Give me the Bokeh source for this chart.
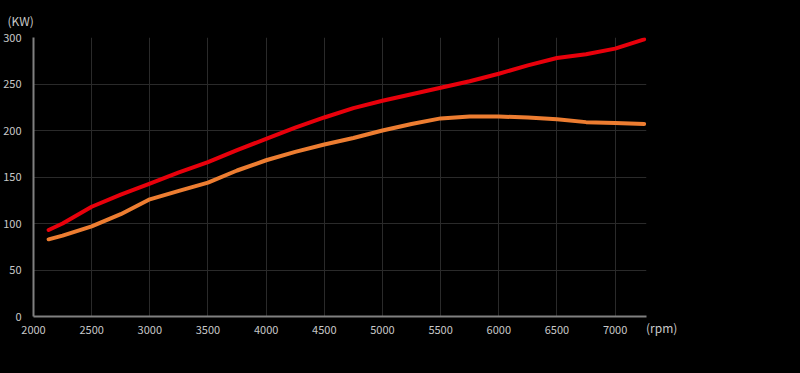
from bokeh.plotting import figure
from bokeh.models import Legend, LegendItem, Title, Range1d, FixedTicker, GlobalInlineStyleSheet
from bokeh.embed import file_html
from bokeh.resources import INLINE

rpm = [2130, 2250, 2500, 2750, 3000, 3250, 3500, 3750, 4000, 4250, 4500, 4750,
       5000, 5250, 5500, 5750, 6000, 6250, 6500, 6750, 7000, 7250]
gcg_kw = [93, 100, 118, 131, 143, 155, 166, 179, 191, 203, 214, 224,
          232, 239, 246, 253, 261, 270, 278, 282, 288, 298]
stock_kw = [83, 87, 97, 110, 126, 135, 144, 157, 168, 177, 185, 192,
            200, 207, 213, 215, 215, 214, 212, 209, 208, 207]
series_names = ["GCGハイフロー", "純正ターボ"]
x_ticks = [2000, 2500, 3000, 3500, 4000, 4500, 5000, 5500, 6000, 6500, 7000]
y_ticks = [0, 50, 100, 150, 200, 250, 300]

FONT = "Noto Sans CJK JP"
TXT = "#c8c8c8"

p = figure(frame_width=613, frame_height=279, output_backend="svg", toolbar_location=None,
           x_range=Range1d(2000, 7270), y_range=Range1d(0, 300),
           min_border_left=27, min_border_right=144, min_border_top=37, min_border_bottom=49,
           background_fill_color="black", border_fill_color="black", outline_line_color=None)

p.stylesheets = [GlobalInlineStyleSheet(css="html,body{background:#000;overflow:hidden;}")]

for ax, ticks in ((p.xaxis, x_ticks), (p.yaxis, y_ticks)):
    ax.ticker = FixedTicker(ticks=ticks)
    ax.axis_line_color = "#808080"
    ax.axis_line_width = 2
    ax.major_tick_line_color = None
    ax.minor_tick_line_color = None
    ax.major_label_text_color = TXT
    ax.major_label_text_font = FONT
    ax.major_label_text_font_size = "11px"
p.xaxis.major_label_standoff = 3
p.yaxis.major_label_standoff = 6

p.xgrid.ticker = FixedTicker(ticks=x_ticks)
p.ygrid.ticker = FixedTicker(ticks=y_ticks)
p.grid.grid_line_color = "#2a2a2a"
p.grid.grid_line_width = 1

r1 = p.line(rpm, gcg_kw, line_color="#e8000b", line_width=4, line_cap="round", line_join="round")
r2 = p.line(rpm, stock_kw, line_color="#ed7d31", line_width=4, line_cap="round", line_join="round")
r_unit = p.line([], [], line_alpha=0)

unit_legend = Legend(items=[LegendItem(label="(rpm)", renderers=[r_unit])],
                     location=(0, -20), background_fill_alpha=0, border_line_color=None,
                     label_text_color=TXT, label_text_font=FONT, label_text_font_size="12px",
                     glyph_width=0, glyph_height=12, padding=0, margin=0, label_standoff=0)
p.add_layout(unit_legend, "right")

legend = Legend(items=[LegendItem(label=series_names[0], renderers=[r1]),
                       LegendItem(label=series_names[1], renderers=[r2])],
                location=(7, 112), background_fill_alpha=0, border_line_color=None,
                label_text_color=TXT, label_text_font=FONT, label_text_font_size="11px",
                glyph_width=26, glyph_height=10, spacing=6, padding=0, margin=0,
                label_standoff=2)
p.add_layout(legend, "right")

p.add_layout(Title(text="(KW)", align="left", offset=-26, text_color=TXT, text_font=FONT,
                   text_font_size="12px", text_font_style="normal", standoff=17), "above")

open("out.html", "w").write(file_html(p, INLINE))
